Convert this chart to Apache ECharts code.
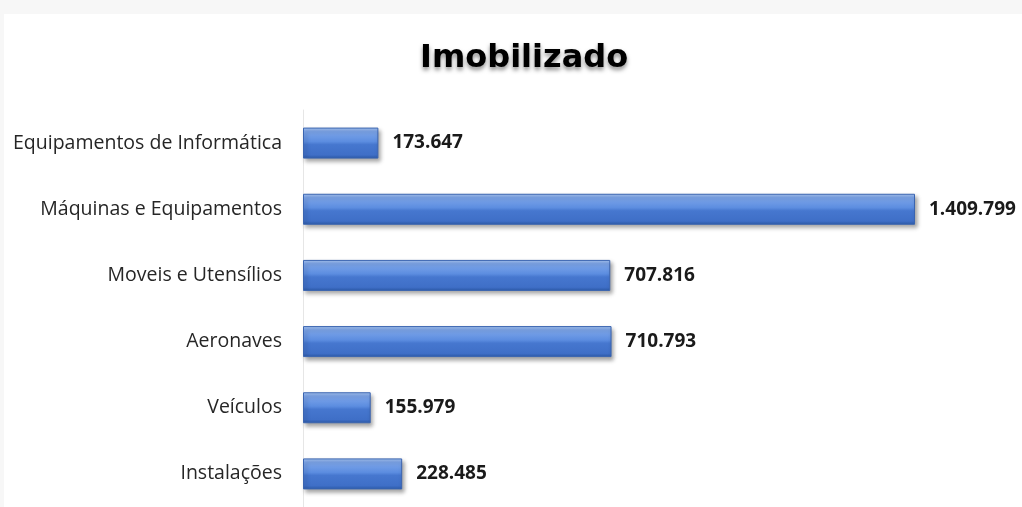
<!DOCTYPE html>
<html>
<head>
<meta charset="utf-8">
<script src="https://cdn.jsdelivr.net/npm/echarts@6/dist/echarts.min.js"></script>
<style>
  html, body { margin: 0; padding: 0; background: #f7f7f7; }
  #chart { width: 1022px; height: 507px; }
</style>
</head>
<body>
<div id="chart"></div>
<script>
// categories, top to bottom
const categories = [
  'Equipamentos de Informática',
  'Máquinas e Equipamentos',
  'Moveis e Utensílios',
  'Aeronaves',
  'Veículos',
  'Instalações'
];
const values = [173647, 1409799, 707816, 710793, 155979, 228485];

// 1.409.799 style
const fmt = v => String(v).replace(/\B(?=(\d{3})+(?!\d))/g, '.');

const chart = echarts.init(document.getElementById('chart'));
chart.setOption({
  backgroundColor: '#f7f7f7',
  animation: false,
  graphic: [{
    type: 'rect',
    z: -10,
    shape: { x: 4, y: 14, width: 1018, height: 493 },
    style: { fill: '#ffffff' }
  }],
  title: {
    text: 'Imobilizado',
    left: 415,
    top: 38,
    textStyle: {
      fontFamily: 'DejaVu Sans',
      fontWeight: 'bold',
      fontSize: 32,
      color: '#000',
      textShadowColor: 'rgba(0,0,0,0.45)',
      textShadowBlur: 4,
      textShadowOffsetY: 3
    }
  },
  grid: { left: 303, top: 110, width: 612, height: 404 },
  xAxis: {
    type: 'value',
    min: 0,
    max: 1409799,
    show: false
  },
  yAxis: {
    type: 'category',
    inverse: true,
    data: categories,
    axisLine: { show: true, lineStyle: { color: '#e6e6e6' } },
    axisTick: { show: false },
    axisLabel: {
      margin: 21,
      fontFamily: 'Open Sans',
      fontSize: 19.5,
      color: '#262626'
    }
  },
  series: [{
    type: 'bar',
    data: values,
    barWidth: 31,
    itemStyle: {
      color: new echarts.graphic.LinearGradient(0, 0, 0, 1, [
        { offset: 0, color: '#a9c6f2' },
        { offset: 0.12, color: '#7ea6ea' },
        { offset: 0.45, color: '#5c8de0' },
        { offset: 0.55, color: '#4677cf' },
        { offset: 0.88, color: '#3f6fc7' },
        { offset: 1, color: '#2c5aa8' }
      ]),
      borderColor: '#3a64b0',
      borderWidth: 1,
      shadowColor: 'rgba(0,0,0,0.35)',
      shadowBlur: 4,
      shadowOffsetX: 2,
      shadowOffsetY: 3
    },
    label: {
      show: true,
      position: 'right',
      distance: 14,
      formatter: p => fmt(p.value),
      fontFamily: 'Open Sans',
      fontWeight: 'bold',
      fontSize: 19,
      color: '#1a1a1a'
    }
  }]
});
</script>
</body>
</html>
